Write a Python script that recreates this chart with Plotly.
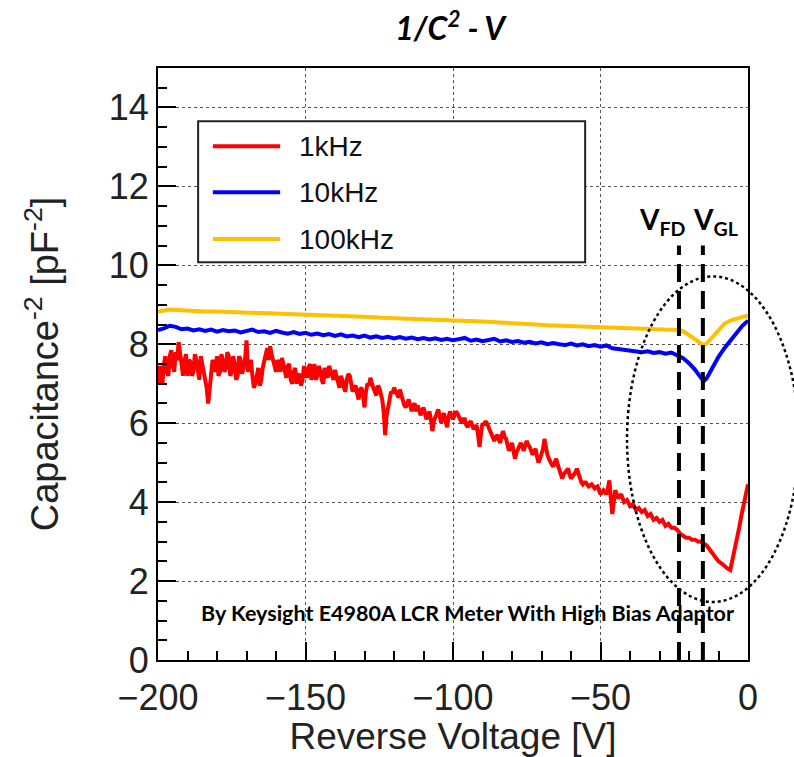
import plotly.graph_objects as go

# ---------------- data ----------------
red_v = list(range(-200, 1))
red_c = [
    7.0, 7.25, 7.5, 7.3, 7.7, 7.45, 7.8, 8.05, 7.4, 7.6, 7.2,
    7.55, 7.3, 7.6, 7.1, 7.5, 7.0, 6.5, 7.2, 7.5, 7.7,
    7.3, 7.6, 7.4, 7.7, 7.3, 7.5, 7.2, 7.6, 7.4, 8.1,
    7.5, 7.2, 7.0, 7.4, 7.1, 7.55, 7.9, 7.95, 7.6, 7.3,
    7.5, 7.65, 7.3, 7.45, 7.1, 7.3, 7.0, 7.25, 7.1, 7.3,
    7.4, 7.1, 7.5, 7.2, 7.35, 7.0, 7.3, 7.45, 7.2, 7.35,
    7.0, 7.2, 6.9, 7.1, 7.2, 6.8, 6.95, 6.6, 6.9, 6.4,
    7.0, 7.15, 6.9, 6.7, 6.9, 6.6, 5.7, 6.5, 6.8, 6.9,
    6.7, 6.85, 6.6, 6.4, 6.6, 6.3, 6.5, 6.45, 6.2, 6.4,
    6.1, 6.3, 5.8, 6.2, 6.35, 6.0, 6.25, 5.9, 6.3, 6.1,
    6.3, 6.15, 6.0, 6.1, 5.9, 6.05, 5.85, 5.95, 5.4, 6.0,
    6.05, 5.9, 5.7, 5.55, 5.7, 5.5, 5.8, 5.6, 5.3, 5.5,
    5.1, 5.35, 5.5, 5.3, 5.55, 5.4, 5.2, 5.35, 5.0, 5.2,
    5.6, 5.2, 5.0, 4.9, 5.1, 4.8, 4.6, 4.75, 4.85, 4.6,
    4.7, 4.85, 4.55, 4.45, 4.5, 4.4, 4.45, 4.35, 4.4, 4.2,
    4.3, 4.2, 4.55, 3.7, 4.3, 4.1, 4.2, 4.0, 4.05, 3.9,
    3.95, 3.8, 3.85, 3.75, 3.8, 3.65, 3.7, 3.55, 3.6, 3.5,
    3.55, 3.4, 3.45, 3.35, 3.35, 3.3, 3.2, 3.15, 3.1, 3.1,
    3.05, 3.05, 3.0, 3.0, 2.95, 2.9, 2.8, 2.7, 2.6, 2.5,
    2.45, 2.38, 2.32, 2.28, 2.6, 3.0, 3.35, 3.75, 4.15, 4.45,
]
# half-volt readings of the noisy 1 kHz trace (-199.5 ... -40.5 V)
red_mid_v = [v + 0.5 for v in range(-200, -40)]
red_mid_c = [
    7.45, 7.0, 7.7, 7.2, 7.85, 7.3, 7.6, 7.7, 7.2, 7.75,
    7.6, 7.2, 7.75, 7.3, 7.7, 7.2, 6.9, 6.8, 7.6, 7.3,
    7.2, 7.75, 7.3, 7.8, 7.2, 7.7, 7.1, 7.7, 7.25, 7.6,
    7.3, 7.6, 6.9, 7.3, 6.95, 7.4, 7.7, 7.6, 7.75, 7.5,
    7.6, 7.3, 7.5, 7.15, 7.5, 7.0, 7.4, 7.2, 6.95, 7.45,
    7.15, 7.5, 7.3, 7.1, 7.45, 7.1, 7.4, 7.15, 7.3, 7.1,
    7.2, 6.9, 7.1, 6.8, 7.25, 7.0, 6.9, 6.75, 6.85, 6.7,
    6.8, 6.95, 7.0, 6.75, 6.95, 6.75, 6.3, 6.2, 6.6, 6.75,
    6.8, 6.65, 6.7, 6.45, 6.55, 6.45, 6.45, 6.3, 6.35, 6.3,
    6.25, 6.2, 6.1, 6.05, 6.25, 6.1, 6.2, 6.05, 6.15, 6.2,
    6.2, 6.25, 6.05, 6.1, 5.95, 6.0, 5.95, 5.9, 5.7, 5.75,
    5.95, 6.0, 5.8, 5.6, 5.65, 5.6, 5.7, 5.65, 5.45, 5.4,
    5.3, 5.25, 5.4, 5.4, 5.45, 5.45, 5.3, 5.3, 5.15, 5.1,
    5.35, 5.35, 5.1, 4.95, 5.0, 4.95, 4.7, 4.7, 4.8, 4.7,
    4.65, 4.75, 4.7, 4.5, 4.5, 4.45, 4.42, 4.4, 4.38, 4.3,
    4.25, 4.25, 4.35, 4.1, 4.0, 4.2, 4.15, 4.1, 4.02, 3.98,
]

blue_v = list(range(-200, -15, 2)) + [-15, -14, -12, -10, -8, -6, -4, -2, 0]
blue_c = [
    8.36, 8.40, 8.47, 8.44, 8.38, 8.40, 8.35, 8.38, 8.34, 8.37,
    8.32, 8.36, 8.33, 8.35, 8.30, 8.34, 8.37, 8.31, 8.33, 8.29,
    8.34, 8.30, 8.27, 8.31, 8.26, 8.29, 8.24, 8.27, 8.23, 8.26,
    8.21, 8.25, 8.20, 8.22, 8.18, 8.22, 8.17, 8.20, 8.16, 8.19,
    8.15, 8.18, 8.14, 8.17, 8.13, 8.16, 8.12, 8.15, 8.11, 8.14,
    8.10, 8.13, 8.16, 8.09, 8.12, 8.08, 8.11, 8.14, 8.07, 8.10,
    8.06, 8.08, 8.04, 8.06, 8.02, 8.05, 8.00, 8.03, 8.00, 7.98,
    8.02, 7.97, 8.00, 7.95, 7.98, 7.94, 7.97, 7.90, 7.88, 7.86,
    7.84, 7.83, 7.80, 7.82, 7.78, 7.80, 7.76, 7.79, 7.72, 7.65,
    7.52, 7.36, 7.16,
    7.07, 7.14, 7.42, 7.68, 7.90, 8.10, 8.30, 8.46, 8.60,
]

yellow_v = list(range(-200, -27, 4)) + [-24, -22, -20, -18, -16, -15, -14, -12, -10, -8, -6, -4, -2, 0]
yellow_c = [
    8.83, 8.88, 8.86, 8.84, 8.83, 8.83, 8.82, 8.80, 8.81, 8.78,
    8.77, 8.76, 8.75, 8.74, 8.73, 8.72, 8.72, 8.70, 8.69, 8.67,
    8.66, 8.65, 8.64, 8.63, 8.63, 8.62, 8.60, 8.58, 8.57, 8.55,
    8.54, 8.52, 8.50, 8.48, 8.47, 8.46, 8.45, 8.44, 8.43, 8.42,
    8.41, 8.40, 8.39, 8.38,
    8.36, 8.33, 8.24, 8.13, 8.02, 7.98, 8.02, 8.18, 8.36, 8.52, 8.60, 8.65, 8.70, 8.73,
]

series_names = ["1kHz", "10kHz", "100kHz"]
series_colors = ["#ff0000", "#0000ff", "#ffc000"]

V_FD = -23.4
V_GL = -15.3
marker_top = 10.5

x_range = [-200, 0]
y_range = [0, 15]

# merge the 1 kHz readings in voltage order
red_pts = sorted(zip(red_v + red_mid_v, red_c + red_mid_c))
red_x = [p[0] for p in red_pts]
red_y = [p[1] for p in red_pts]

# ---------------- figure ----------------
fig = go.Figure()
for v, c, name, col in zip([red_x, blue_v, yellow_v], [red_y, blue_c, yellow_c],
                           series_names, series_colors):
    fig.add_trace(go.Scatter(x=v, y=c, mode="lines", name=name,
                             line=dict(color=col, width=4), showlegend=False))

FONT = "Liberation Sans, Arial, sans-serif"
CAL = "Lato, Open Sans, sans-serif"

shapes = []
for xv in (V_FD, V_GL):
    shapes.append(dict(type="line", xref="x", yref="y", x0=xv, x1=xv, y0=0, y1=marker_top,
                       line=dict(color="black", width=4, dash="18px,9px"), layer="above"))
shapes.append(dict(type="circle", xref="paper", yref="paper",
                   x0=0.795, x1=1.086, y0=0.098, y1=0.648,
                   line=dict(color="black", width=2.5, dash="dot"), layer="above"))
lg_x0, lg_x1, lg_y0, lg_y1 = 0.068, 0.724, 0.672, 0.910
shapes.append(dict(type="rect", xref="paper", yref="paper", x0=lg_x0, x1=lg_x1, y0=lg_y0, y1=lg_y1,
                   line=dict(color="#222", width=2), fillcolor="white", layer="above"))
rows = [0.868, 0.790, 0.711]
annotations = []
for name, col, ry in zip(series_names, series_colors, rows):
    shapes.append(dict(type="line", xref="paper", yref="paper", x0=0.093, x1=0.207, y0=ry, y1=ry,
                       line=dict(color=col, width=4), layer="above"))
    annotations.append(dict(xref="paper", yref="paper", x=0.235, y=ry, text=name, showarrow=False,
                            xanchor="left", yanchor="middle", font=dict(family=FONT, size=28, color="#111")))

annotations += [
    dict(xref="paper", yref="paper", x=0.855, y=0.742, text="<b>V<sub>FD</sub></b>", showarrow=False,
         xanchor="center", yanchor="middle", font=dict(family=CAL, size=28, color="black")),
    dict(xref="paper", yref="paper", x=0.945, y=0.742, text="<b>V<sub>GL</sub></b>", showarrow=False,
         xanchor="center", yanchor="middle", font=dict(family=CAL, size=28, color="black")),
    dict(xref="paper", yref="paper", x=0.524, y=0.079,
         text="<b>By Keysight E4980A LCR Meter With High Bias Adaptor</b>", showarrow=False,
         xanchor="center", yanchor="middle", font=dict(family=CAL, size=21.5, color="black")),
]

fig.update_layout(
    width=794, height=757,
    margin=dict(l=158, r=46, t=68, b=97),
    paper_bgcolor="white", plot_bgcolor="white",
    title=dict(text="<b><i>1/C<sup>2</sup> - V</i></b>", x=0.567, xanchor="center",
               y=0.962, yanchor="middle", font=dict(family=CAL, size=32, color="black")),
    shapes=shapes, annotations=annotations,
)

axis_common = dict(
    showline=True, linecolor="black", linewidth=2, mirror=True,
    ticks="inside", tickcolor="black", tickwidth=1.5, ticklen=18,
    showgrid=True, gridcolor="#555", gridwidth=1, griddash="dot",
    zeroline=False,
    tickfont=dict(family=FONT, size=36, color="#222"),
    automargin=False,
)
fig.update_xaxes(range=x_range, dtick=50, tick0=0, ticklabelstandoff=5,
                 minor=dict(dtick=10, ticks="inside", ticklen=9, tickcolor="black", showgrid=False),
                 title=dict(text="Reverse Voltage [V]", font=dict(family=FONT, size=37, color="#222"), standoff=12),
                 **axis_common)
fig.update_yaxes(range=y_range, dtick=2, tick0=0,
                 minor=dict(dtick=0.5, ticks="inside", ticklen=9, tickcolor="black", showgrid=False),
                 title=dict(text="Capacitance<sup>-2</sup> [pF<sup>-2</sup>]",
                            font=dict(family=FONT, size=38, color="#222"), standoff=38),
                 **axis_common)

fig.write_html("out.html")
